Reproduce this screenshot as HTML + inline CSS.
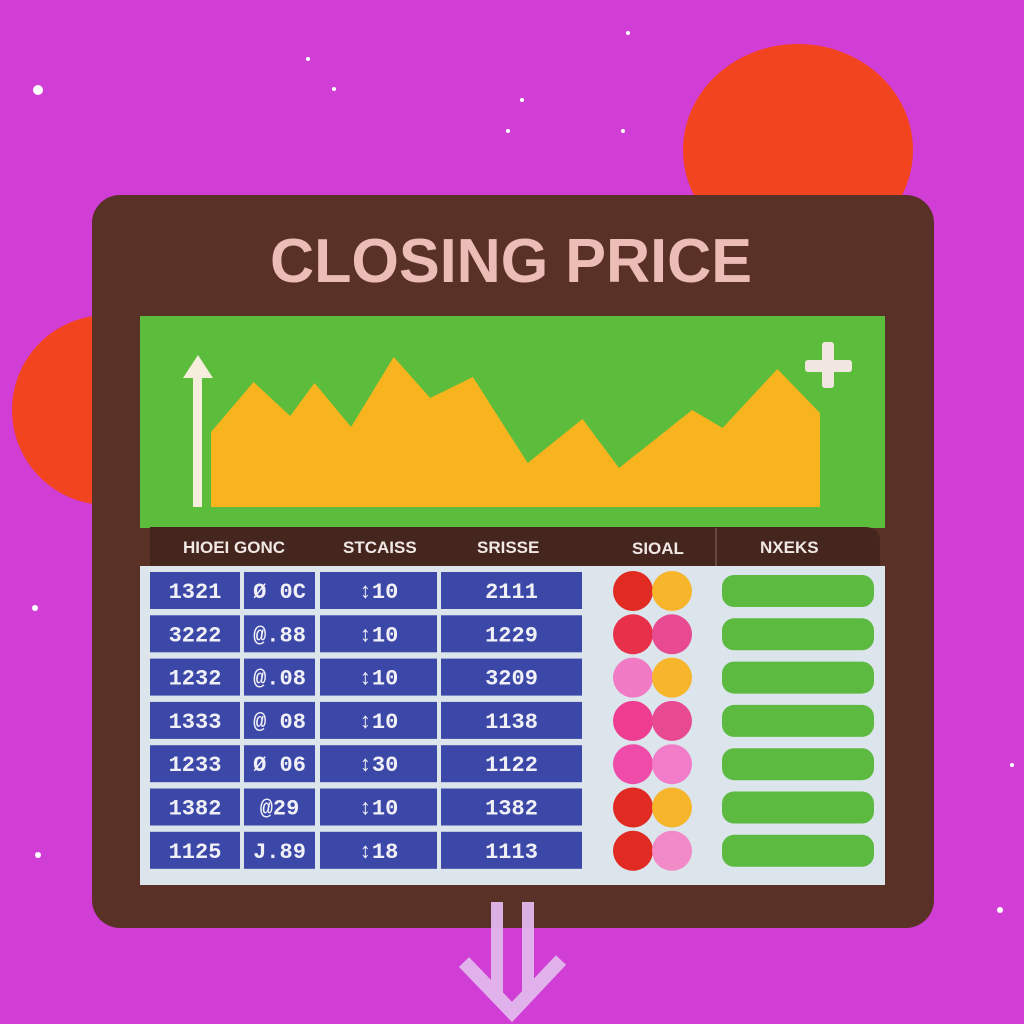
<!DOCTYPE html>
<html><head><meta charset="utf-8"><style>
html,body{margin:0;padding:0;width:1024px;height:1024px;overflow:hidden;background:#d13ed6}
svg{display:block}
.sans{font-family:"Liberation Sans",sans-serif}
.mono{font-family:"Liberation Mono",monospace}
</style></head><body>
<svg id="s" width="1024" height="1024" viewBox="0 0 1024 1024" xmlns="http://www.w3.org/2000/svg">
<rect width="1024" height="1024" fill="#d13ed6"/>
<g fill="#fff">
<circle cx="38" cy="90" r="5"/><circle cx="628" cy="33" r="2"/><circle cx="308" cy="59" r="2"/><circle cx="334" cy="89" r="2"/><circle cx="522" cy="100" r="2"/><circle cx="508" cy="131" r="2"/><circle cx="623" cy="131" r="2"/><circle cx="35" cy="608" r="3"/><circle cx="38" cy="855" r="3"/><circle cx="1000" cy="910" r="3"/><circle cx="1012" cy="765" r="2"/>
</g>
<ellipse cx="798" cy="150" rx="115" ry="106" fill="#f2441f"/>
<circle cx="107" cy="410" r="95" fill="#f2441f"/>
<rect x="92" y="195" width="842" height="733" rx="28" fill="#5a3127"/>
<text class="sans" x="511" y="282" text-anchor="middle" font-size="62" font-weight="bold" fill="#ecbcb6" textLength="482" lengthAdjust="spacingAndGlyphs">CLOSING PRICE</text>
<rect x="140" y="316" width="745" height="212" fill="#5cbc3c"/>
<g id="chart"></g>
<rect x="193" y="375" width="9" height="132" fill="#f6eedd"/>
<polygon points="183,378 198,355 213,378" fill="#f6eedd"/>
<g fill="#f2e6e0"><rect x="805" y="360" width="47" height="12" rx="3"/><rect x="822" y="342" width="12" height="46" rx="3"/></g>
<path d="M150 527 H865 Q880 527 880 542 V566 H150 Z" fill="#45261f"/>
<line x1="716" y1="528" x2="716" y2="566" stroke="#8a6a60" stroke-width="1"/>
<g class="sans" font-size="17" font-weight="bold" fill="#f1e8e6">
<text x="183" y="553">HIOEI GONC</text>
<text x="343" y="553">STCAISS</text>
<text x="477" y="553">SRISSE</text>
<text x="632" y="554">SIOAL</text>
<text x="760" y="553">NXEKS</text>
</g>
<rect x="140" y="566" width="745" height="319" fill="#dce4ec"/>
<g id="table"></g>
<g fill="#e2b8ee" opacity="0.95">
<rect x="491" y="902" width="12" height="95"/><rect x="522" y="902" width="12" height="95"/>
<polyline points="464,962 512,1012 561,960" fill="none" stroke="#e2b8ee" stroke-width="14" stroke-linejoin="miter"/>
</g>
</svg>
<script>
const days=[0,7,13,17,23,30,36,43,52,61,67,79,84,93,100];
const prices=[75,125,91,124,80,150,109,130,44,88,39,97,79,138,94];
const col1=["1321","3222","1232","1333","1233","1382","1125"];
const col2=["Ø 0C","@.88","@.08","@ 08","Ø 06","@29","J.89"];
const col3=["↕10","↕10","↕10","↕10","↕30","↕10","↕18"];
const col4=["2111","1229","3209","1138","1122","1382","1113"];
const signalA=["#e02a22","#e8304a","#f07ac4","#ee3c90","#ee4ca8","#e02a22","#e02a22"];
const signalB=["#f7b52c","#e84a92","#f7b52c","#e84a92","#f27cc8","#f7b52c","#f28ac8"];
const NS="http://www.w3.org/2000/svg";
const xS=d=>211+d*6.09, yS=v=>507-v;
function mk(tag,attrs,parent){const e=document.createElementNS(NS,tag);for(const k in attrs)e.setAttribute(k,attrs[k]);parent.appendChild(e);return e;}
const chart=document.getElementById('chart');
let pts=xS(days[0])+","+yS(0)+" ";
days.forEach((d,i)=>{pts+=xS(d)+","+yS(prices[i])+" ";});
pts+=xS(days[days.length-1])+","+yS(0);
const area=mk('polygon',{points:pts,fill:'#f8b41e'},chart);


const table=document.getElementById('table');
const cols=[[150,90,col1],[244,71,col2],[320,117,col3],[441,141,col4]];
for(let r=0;r<col1.length;r++){
  const y=572+r*43.3;
  cols.forEach((c,ci)=>{
    const cell=mk('rect',{x:c[0],y:y,width:c[1],height:37,fill:'#3c48a8'},table);
    
    
    const t=mk('text',{x:c[0]+c[1]/2,y:y+26,'text-anchor':'middle','font-size':'22','class':'mono','font-weight':'bold',fill:'#f0f0f6'},table);
    t.textContent=c[2][r];
    
    
  });
  const a=mk('circle',{cx:633,cy:y+19,r:20,fill:signalA[r]},table);
  
  
  const b=mk('circle',{cx:672,cy:y+19,r:20,fill:signalB[r]},table);
  
  
  const p=mk('rect',{x:722,y:y+3,width:152,height:32,rx:12,fill:'#5cba40'},table);
  
  
}
</script>
</body></html>
